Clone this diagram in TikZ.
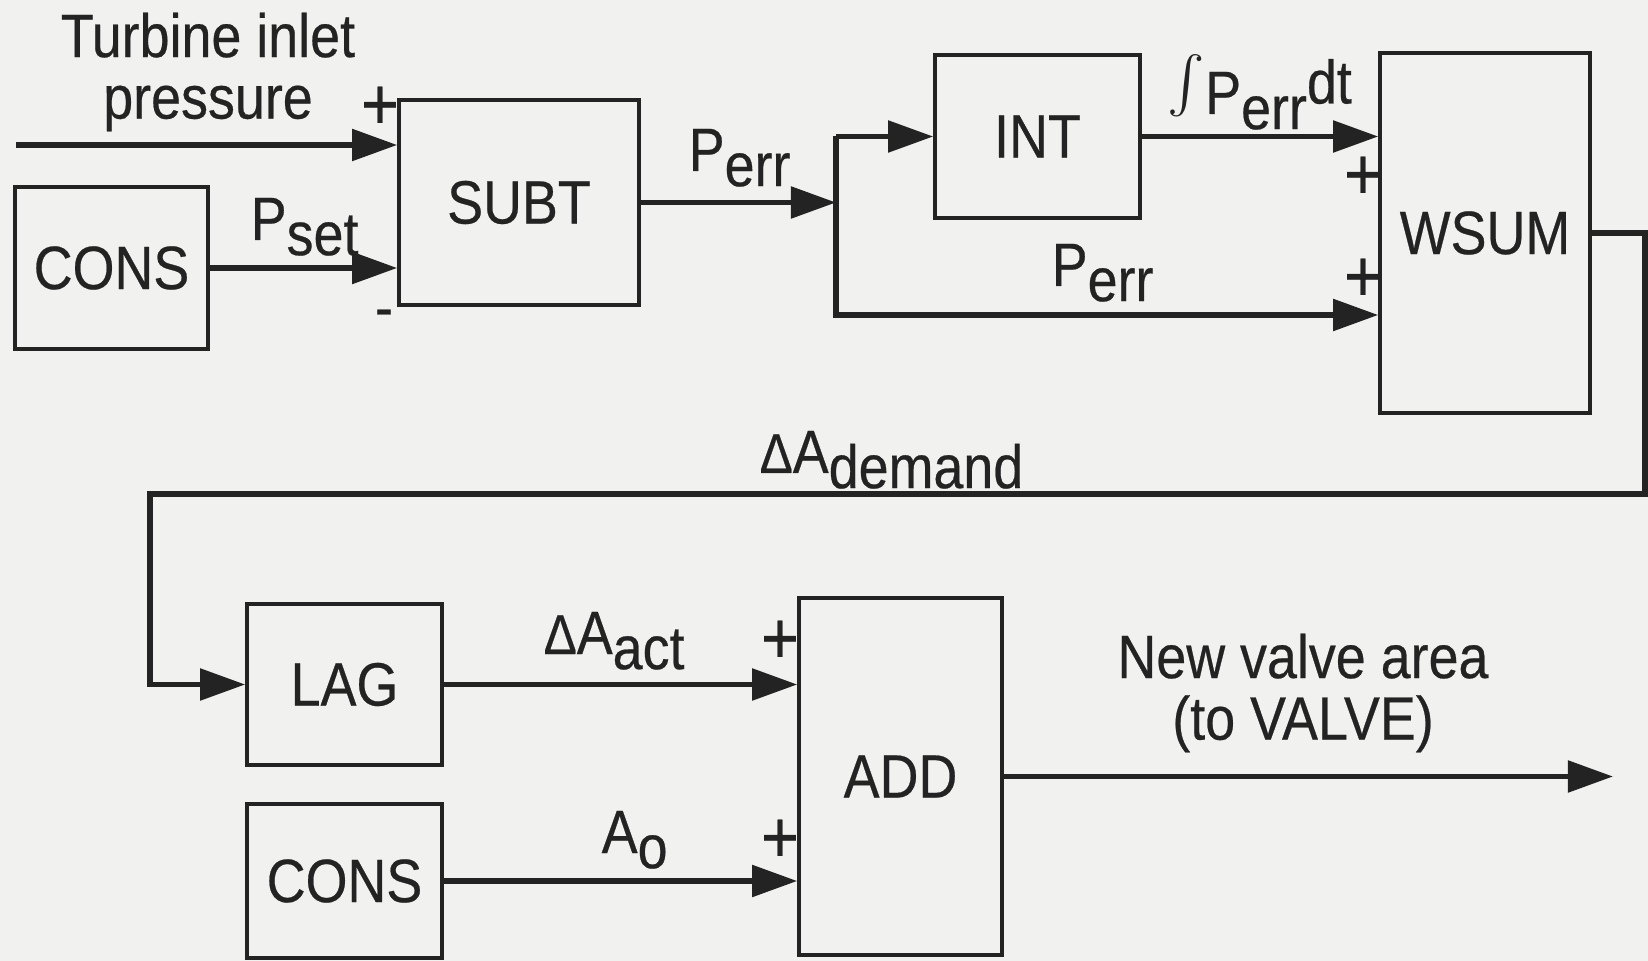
\documentclass[tikz,border=0pt]{standalone}
\usepackage{fontspec}
\setmainfont{Liberation Sans}[FakeStretch=0.88,FakeBold=0.4]
\usetikzlibrary{arrows.meta}
\definecolor{bg}{RGB}{241,241,239}
\definecolor{ink}{RGB}{35,35,35}
\newcommand{\lowsub}[1]{\raisebox{-4.3pt}{#1}}
\newcommand{\dlt}{{\fontsize{16}{16}\selectfont Δ}}
\begin{document}
\begin{tikzpicture}[x=0.01cm,y=-0.01cm,
  blk/.style={draw=ink, line width=1pt, inner sep=0pt, font=\fontsize{17.4}{18}\selectfont, text=ink},
  lbl/.style={inner sep=0pt, font=\fontsize{17.4}{17.5}\selectfont, text=ink},
  pls/.style={inner sep=0pt, font=\fontsize{21}{21}\selectfont, text=ink},
  con/.style={draw=ink, line width=1.5pt},
  arr/.style={con, -{Triangle[length=0.45cm,width=0.31cm]}},
]
\fill[bg] (0,0) rectangle (1648,961);
\useasboundingbox (0,0) rectangle (1648,961);

% blocks
\node[blk, minimum width=1.93cm, minimum height=1.62cm] (cons1) at (111.5,268) {CONS};
\node[blk, minimum width=2.40cm, minimum height=2.05cm] (subt) at (519,202.5) {SUBT};
\node[blk, minimum width=2.05cm, minimum height=1.63cm] (int) at (1037.5,136.5) {INT};
\node[blk, minimum width=2.10cm, minimum height=3.60cm] (wsum) at (1485,233) {WSUM};
\node[blk, minimum width=1.95cm, minimum height=1.61cm] (lag) at (344.5,684.5) {LAG};
\node[blk, minimum width=1.95cm, minimum height=1.54cm] (cons2) at (344.5,881) {CONS};
\node[blk, minimum width=2.03cm, minimum height=3.57cm] (add) at (900.5,776.5) {ADD};

% labels
\node[lbl, align=center] (tip) at (208,72) {Turbine inlet\\pressure};
\node[lbl, anchor=base west] (pset) at (250,240) {P\lowsub{set}};
\node[lbl, anchor=base west] (perr1) at (688,171) {P\lowsub{err}};
\node[lbl, anchor=base west] (iperr) at (1167,114) {\raisebox{1pt}{\scalebox{1.6}{$\int$}}P\lowsub{err}\raisebox{3pt}{dt}};
\node[lbl, anchor=base west] (perr2) at (1051,286) {P\lowsub{err}};
\node[lbl, anchor=base west] (dad) at (759,473) {\dlt A\lowsub{demand}};
\node[lbl, anchor=base west] (daa) at (543,654) {\dlt A\lowsub{act}};
\node[lbl, anchor=base west] (ao) at (601,853) {A\lowsub{o}};
\node[lbl, align=center] (nva) at (1303,693) {New valve area\\(to VALVE)};

% signs
\node[pls] (p1) at (380,108) {+};
\node[lbl] (m1) at (384,319) {-};
\node[pls] (p2) at (1363,178) {+};
\node[pls] (p3) at (1363,280) {+};
\node[pls] (p4) at (780,642) {+};
\node[pls] (p5) at (780,841) {+};

% connectors
\coordinate (tin) at (16,145);
\draw[arr] (tin) -- (tin -| subt.west);
\draw[arr] (cons1.east) -- (cons1.east -| subt.west);
\coordinate (sp) at (836,315);
\draw[arr] (subt.east) -- (subt.east -| sp);
\draw[arr] (int.west -| sp) -- (int.west);
\draw[arr] (int.west -| sp) -- (sp) -- (sp -| wsum.west);
\draw[arr] (int.east) -- (int.east -| wsum.west);
\coordinate (rc) at (1645,494);
\coordinate (lc) at (150,494);
\draw[arr] (wsum.east) -- (wsum.east -| rc) -- (rc) -- (lc) -- (lc |- lag.west) -- (lag.west);
\draw[arr] (lag.east) -- (lag.east -| add.west);
\draw[arr] (cons2.east) -- (cons2.east -| add.west);
\coordinate (out) at (1613,775);
\draw[arr] (add.east) -- (add.east -| out);
\end{tikzpicture}
\end{document}
